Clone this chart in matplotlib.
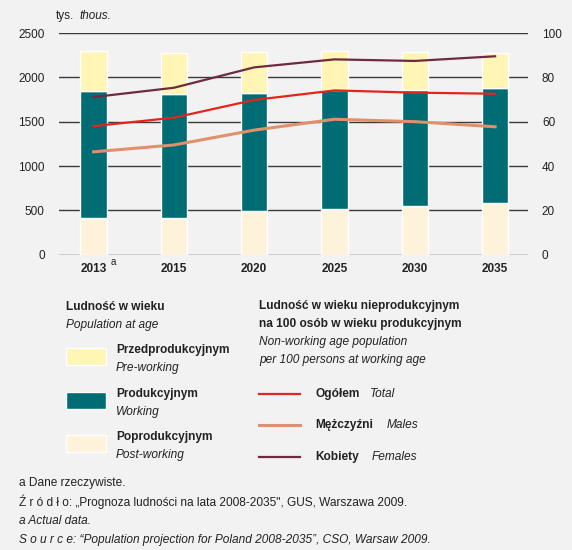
import matplotlib.pyplot as plt
from matplotlib.patches import Rectangle
from matplotlib.lines import Line2D

plt.rcParams['font.family'] = ['Liberation Sans', 'DejaVu Sans']

# data
years = ['2013', '2015', '2020', '2025', '2030', '2035']
post_working = [410, 414, 493, 519, 546, 579]
working = [1436, 1394, 1334, 1338, 1307, 1304]
pre_working = [450, 463, 455, 440, 432, 386]

ratio_total = [58.0, 61.8, 69.8, 74.1, 73.1, 72.6]
ratio_males = [46.4, 49.5, 56.2, 61.1, 60.0, 57.7]
ratio_females = [71.1, 75.3, 84.5, 88.1, 87.4, 89.5]

left_ticks = [0, 500, 1000, 1500, 2000, 2500]
right_ticks = [0, 20, 40, 60, 80, 100]

BG = '#f2f2f2'
C_PRE = '#fff5b5'
C_WORK = '#006d75'
C_POST = '#fef2da'
C_TOTAL = '#e2261c'
C_MALES = '#e0916c'
C_FEMALES = '#6e2b40'
GRID = '#3a3a3a'
TXT = '#222222'

W, H = 572, 550
fig = plt.figure(figsize=(W / 100, H / 100), dpi=100, facecolor=BG)


def fx(px):
    return px / W


def fy(py):
    return 1 - py / H


ax = fig.add_axes([fx(58.7), fy(254.7), fx(528 - 58.7), (254.7 - 33) / H])
ax.set_facecolor(BG)
x = list(range(len(years)))
bw = 0.33
ax.bar(x, post_working, bw, color=C_POST, edgecolor='white', linewidth=1, zorder=3)
bottom2 = [p for p in post_working]
ax.bar(x, working, bw, bottom=bottom2, color=C_WORK, edgecolor='white', linewidth=1, zorder=3)
bottom3 = [p + w for p, w in zip(post_working, working)]
ax.bar(x, pre_working, bw, bottom=bottom3, color=C_PRE, edgecolor='white', linewidth=1, zorder=3)

ax.set_xlim(-0.435, 5.41)
ax.set_ylim(0, 2500)
ax.set_yticks(left_ticks)
ax.set_yticklabels([str(t) for t in left_ticks], fontsize=8.5, color=TXT)
for t in left_ticks:
    ax.axhline(t, color=GRID, linewidth=1, zorder=1)
for s in ax.spines.values():
    s.set_visible(False)
ax.tick_params(axis='y', length=0, pad=10)
ax.set_xticks(x)
ax.set_xticklabels(years, fontsize=8.5, fontweight='bold', color=TXT)
ax.tick_params(axis='x', length=0, pad=6)
ax.text(0.21, -0.045, 'a', transform=ax.get_xaxis_transform(), fontsize=7, color=TXT)

ax2 = ax.twinx()
ax2.set_ylim(0, 100)
ax2.plot(x, ratio_females, color=C_FEMALES, linewidth=1.6, zorder=4)
ax2.plot(x, ratio_total, color=C_TOTAL, linewidth=1.6, zorder=4)
ax2.plot(x, ratio_males, color=C_MALES, linewidth=2.2, zorder=4)
ax2.set_yticks(right_ticks)
ax2.set_yticklabels([str(t) for t in right_ticks], fontsize=8.5, color=TXT)
ax2.tick_params(axis='y', length=0, pad=10)
for s in ax2.spines.values():
    s.set_visible(False)

fig.text(fx(56), fy(16), 'tys.', fontsize=8.5, color=TXT, va='center')
fig.text(fx(79), fy(16), 'thous.', fontsize=8.5, style='italic', color=TXT, va='center')

# legend left block
fs = 8.6
fig.text(fx(66), fy(307), 'Ludność w wieku', fontsize=fs, fontweight='bold', color=TXT, va='center')
fig.text(fx(66), fy(325), 'Population at age', fontsize=fs, style='italic', color=TXT, va='center')
items = [(C_PRE, 'Przedprodukcyjnym', 'Pre-working', 348),
         (C_WORK, 'Produkcyjnym', 'Working', 392),
         (C_POST, 'Poprodukcyjnym', 'Post-working', 435)]
for col, pl, en, y0 in items:
    fig.patches.append(Rectangle((fx(66), fy(y0 + 17)), fx(40), 17 / H, transform=fig.transFigure,
                                 facecolor=col, edgecolor='white', linewidth=1))
    fig.text(fx(116), fy(y0 + 2), pl, fontsize=fs, fontweight='bold', color=TXT, va='center')
    fig.text(fx(116), fy(y0 + 20), en, fontsize=fs, style='italic', color=TXT, va='center')

# legend right block
fig.text(fx(259), fy(306), 'Ludność w wieku nieprodukcyjnym', fontsize=fs, fontweight='bold', color=TXT, va='center')
fig.text(fx(259), fy(324), 'na 100 osób w wieku produkcyjnym', fontsize=fs, fontweight='bold', color=TXT, va='center')
fig.text(fx(259), fy(342), 'Non-working age population', fontsize=fs, style='italic', color=TXT, va='center')
fig.text(fx(259), fy(360), 'per 100 persons at working age', fontsize=fs, style='italic', color=TXT, va='center')
lines = [(C_TOTAL, 'Ogółem', 'Total', 394, 370, 1.6),
         (C_MALES, 'Mężczyźni', 'Males', 425, 387, 2.2),
         (C_FEMALES, 'Kobiety', 'Females', 457, 372, 1.6)]
for col, pl, en, y0, xe, lw in lines:
    fig.lines.append(Line2D([fx(259), fx(300)], [fy(y0), fy(y0)], transform=fig.transFigure,
                            color=col, linewidth=lw))
    fig.text(fx(315), fy(y0), pl, fontsize=fs, fontweight='bold', color=TXT, va='center')
    fig.text(fx(xe), fy(y0), en, fontsize=fs, style='italic', color=TXT, va='center')

# footnotes
fn = 8.6
fig.text(fx(19), fy(483), 'a Dane rzeczywiste.', fontsize=fn, color=TXT, va='center')
fig.text(fx(19), fy(502), 'Ź r ó d ł o: „Prognoza ludności na lata 2008-2035", GUS, Warszawa 2009.',
         fontsize=fn, color=TXT, va='center')
fig.text(fx(19), fy(521), 'a Actual data.', fontsize=fn, style='italic', color=TXT, va='center')
fig.text(fx(19), fy(540), 'S o u r c e: “Population projection for Poland 2008-2035”, CSO, Warsaw 2009.',
         fontsize=fn, style='italic', color=TXT, va='center')

fig.savefig('out.png', dpi=100, facecolor=BG)
